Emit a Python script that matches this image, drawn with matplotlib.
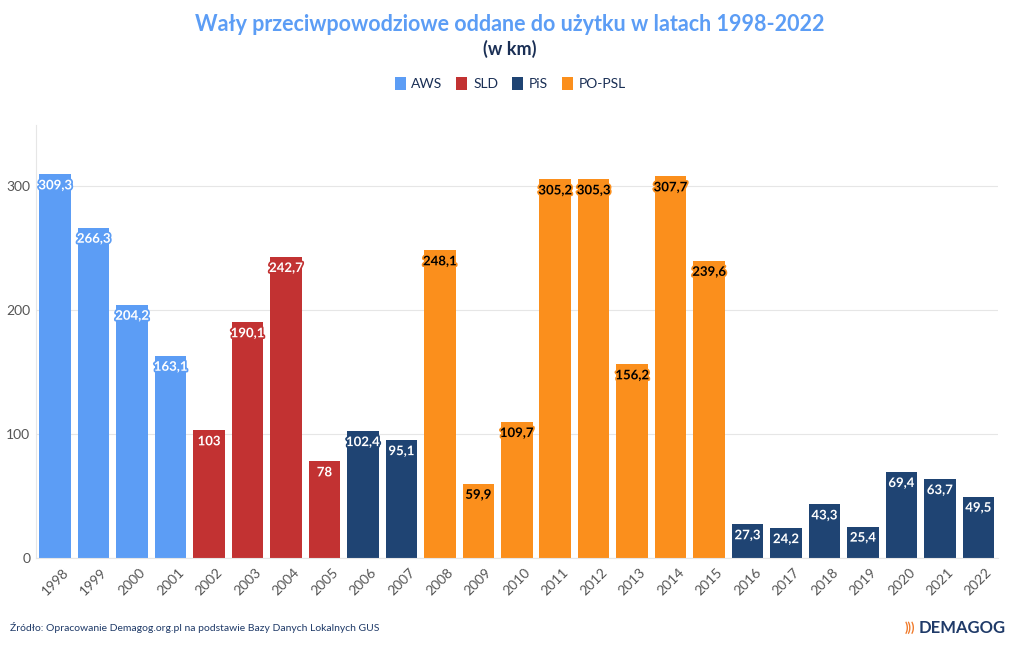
import matplotlib
matplotlib.use("Agg")
import matplotlib.pyplot as plt
import matplotlib.patheffects as pe
from matplotlib.patches import Patch

years = [str(y) for y in range(1998, 2023)]
values = [309.3, 266.3, 204.2, 163.1, 103, 190.1, 242.7, 78, 102.4, 95.1,
          248.1, 59.9, 109.7, 305.2, 305.3, 156.2, 307.7, 239.6,
          27.3, 24.2, 43.3, 25.4, 69.4, 63.7, 49.5]
parties = ["AWS"] * 4 + ["SLD"] * 4 + ["PiS"] * 2 + ["PO-PSL"] * 8 + ["PiS"] * 7
party_order = ["AWS", "SLD", "PiS", "PO-PSL"]
colors = {"AWS": "#5c9df5", "SLD": "#c23232", "PiS": "#1f4473", "PO-PSL": "#fb8f1c"}
yticks = [0, 100, 200, 300]

plt.rcParams['font.family'] = ['Lato', 'DejaVu Sans']

fig = plt.figure(figsize=(10.2, 6.5), dpi=100)
ax = fig.add_axes([0.0353, 0.1415, 0.9427, 0.6662])

x = list(range(len(years)))
bar_colors = [colors[p] for p in parties]
ax.bar(x, values, width=0.82, color=bar_colors, zorder=2)

for xi, v, p in zip(x, values, parties):
    lbl = f"{v:g}".replace(".", ",")
    if p == "PO-PSL":
        tc, oc = "black", colors[p]
    else:
        tc, oc = "white", colors[p]
    ax.annotate(lbl, (xi, v), xytext=(0, -8), textcoords="offset points",
                ha="center", va="center", fontsize=9.5, fontweight="bold",
                color=tc, zorder=3,
                path_effects=[pe.withStroke(linewidth=2.5, foreground=oc)])

ax.set_xlim(-0.5, len(years) - 0.5)
ax.set_ylim(0, 349)
ax.set_yticks(yticks)
ax.set_yticklabels([str(t) for t in yticks], color="#555555", fontsize=10)
ax.set_xticks(x)
ax.set_xticklabels(years, rotation=45, color="#555555", fontsize=10,
                   ha="center", rotation_mode="default")
ax.tick_params(axis="y", length=0, pad=4)
ax.tick_params(axis="x", length=0, pad=6)
ax.grid(axis="y", color="#e6e6e6", linewidth=0.8, zorder=0)
for s in ["top", "right"]:
    ax.spines[s].set_visible(False)
ax.spines["left"].set_color("#e6e6e6")
ax.spines["bottom"].set_color("#e6e6e6")

fig.text(0.5, 0.963, "Wały przeciwpowodziowe oddane do użytku w latach 1998-2022",
         ha="center", va="center", fontsize=15.5, fontweight="bold", color="#5c9df5")
fig.text(0.5, 0.925, "(w km)", ha="center", va="center", fontsize=13,
         fontweight="bold", color="#1a2f55")

handles = [Patch(facecolor=colors[p], edgecolor="none") for p in party_order]
fig.legend(handles, party_order, loc="center", bbox_to_anchor=(0.5, 0.871),
           ncol=4, frameon=False, fontsize=10, handlelength=0.8, handleheight=1.0,
           handletextpad=0.4, columnspacing=1.0, labelcolor="#1a2f55")

fig.text(0.01, 0.034, "Źródło: Opracowanie Demagog.org.pl na podstawie Bazy Danych Lokalnych GUS",
         ha="left", va="center", fontsize=7.5, color="#1f3a68")
fig.text(0.986, 0.034, "DEMAGOG", ha="right", va="center", fontsize=12,
         fontweight="bold", color="#1f3a68")
fig.text(0.897, 0.034, ")))", ha="right", va="center", fontsize=9,
         fontweight="bold", color="#f07a2a")

fig.savefig("out.png", dpi=100, facecolor="white")
